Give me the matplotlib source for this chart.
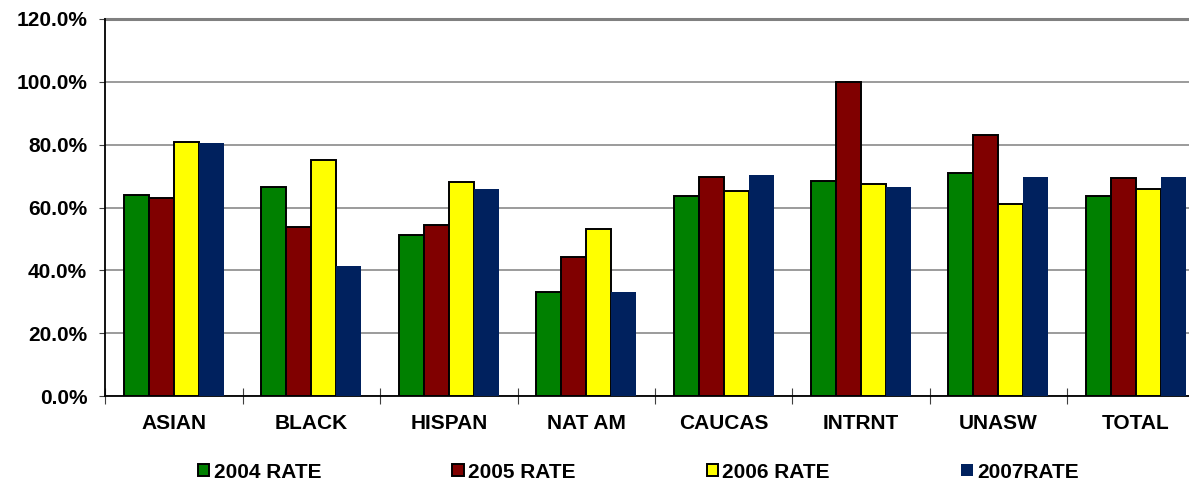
import matplotlib
matplotlib.use("Agg")
import matplotlib.pyplot as plt
import numpy as np
from matplotlib.ticker import FuncFormatter, FixedLocator

categories = ["ASIAN", "BLACK", "HISPAN", "NAT AM", "CAUCAS", "INTRNT", "UNASW", "TOTAL"]
series_names = ["2004 RATE", "2005 RATE", "2006 RATE", "2007RATE"]
rate_2004 = [64.0, 66.6, 51.2, 33.1, 63.8, 68.4, 71.1, 63.6]
rate_2005 = [62.9, 53.9, 54.3, 44.4, 69.7, 100.0, 83.0, 69.5]
rate_2006 = [80.7, 75.0, 68.0, 53.3, 65.4, 67.4, 61.2, 66.0]
rate_2007 = [80.4, 41.5, 65.9, 33.2, 70.3, 66.6, 69.6, 69.6]
yticks = [0, 20, 40, 60, 80, 100, 120]

series = [rate_2004, rate_2005, rate_2006, rate_2007]
colors = ["#008000", "#800000", "#FFFF00", "#00215E"]
edges = ["black", "black", "black", "none"]

plt.rcParams['font.family'] = ['Liberation Sans', 'DejaVu Sans']
FS = 15

fig = plt.figure(figsize=(11.89, 4.82), dpi=100)
W, H = 1189, 482
left_px, right_px, bottom_px, top_px = 105.3, 1204.5, 396, 19
ax = fig.add_axes([left_px / W, (H - bottom_px) / H, (right_px - left_px) / W, (bottom_px - top_px) / H])

n = len(categories)
x = np.arange(n)
bw = 0.182
handles = []
for i, (vals, c, ec) in enumerate(zip(series, colors, edges)):
    b = ax.bar(x + (i - 1.5) * bw, vals, width=bw, color=c, edgecolor=ec,
               linewidth=1.4 if ec != "none" else 0, zorder=3, label=series_names[i])
    handles.append(b)

ax.set_xlim(-0.5, n - 0.5)
ax.set_ylim(0, 120)
ax.set_yticks(yticks)
ax.yaxis.set_major_formatter(FuncFormatter(lambda v, p: f"{v:.1f}%"))
ax.yaxis.grid(True, color="#808080", linewidth=1.1, zorder=0)
ax.set_axisbelow(True)

ax.set_xticks(x)
ax.set_xticklabels(categories, fontsize=FS, fontweight="bold")
ax.xaxis.set_minor_locator(FixedLocator(np.arange(n + 1) - 0.5))
ax.tick_params(axis="x", which="major", length=0, pad=13)
ax.tick_params(axis="x", which="minor", length=11, direction="inout", width=0.8, color="#404040")
ax.tick_params(axis="y", length=4.5, width=0.8, pad=8.5, labelsize=FS, color="#404040")
for lab in ax.get_yticklabels():
    lab.set_fontweight("bold")

for s in ["top", "right"]:
    ax.spines[s].set_visible(False)
ax.spines["left"].set_color("black")
ax.spines["left"].set_linewidth(1.3)
ax.spines["bottom"].set_color("black")
ax.spines["bottom"].set_linewidth(1.3)
ax.axhline(120, color="#808080", linewidth=2.2, zorder=1, clip_on=False)

leg = fig.legend(handles=handles, labels=series_names, loc="center left",
                 bbox_to_anchor=(198 / W, 1 - 472 / H), ncol=4, frameon=False,
                 prop={"size": FS, "weight": "bold"}, handlelength=0.55, handleheight=0.55,
                 handletextpad=0.2, columnspacing=6.3, borderpad=0, borderaxespad=0)

fig.savefig("out.png", dpi=100)
